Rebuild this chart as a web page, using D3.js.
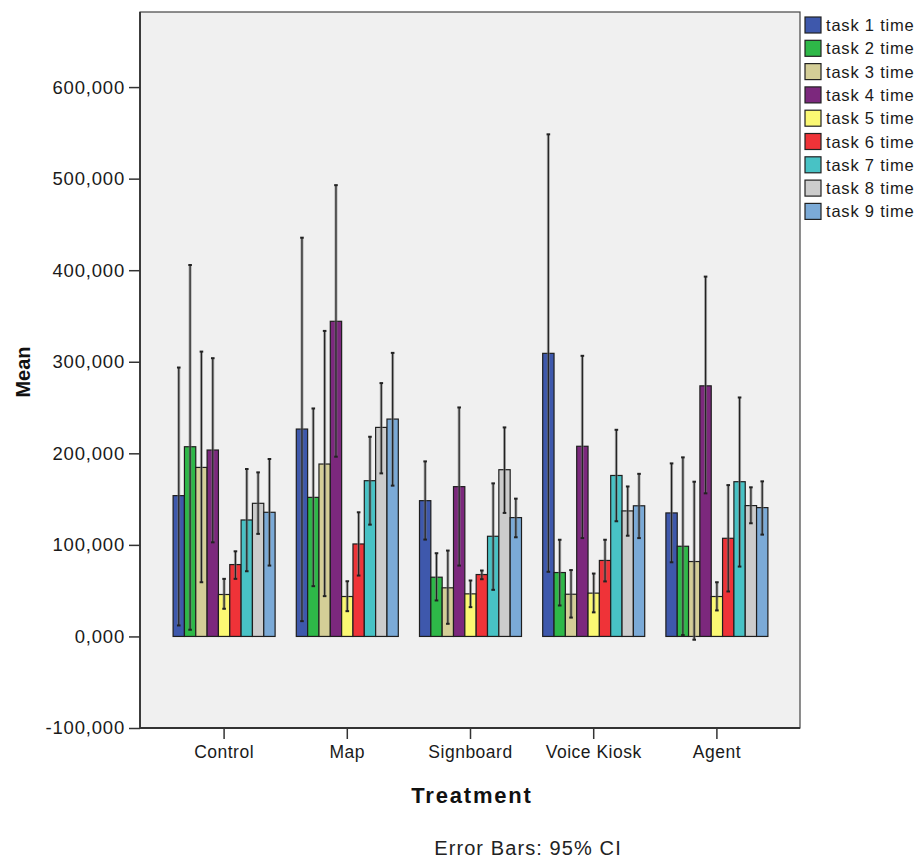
<!DOCTYPE html>
<html>
<head>
<meta charset="utf-8">
<script src="https://cdn.jsdelivr.net/npm/d3@7"></script>
<style>
  body { margin: 0; background: #fff; }
  svg { display: block; font-family: "Liberation Sans", Arial, sans-serif; }
</style>
</head>
<body>
<svg id="chart" width="917" height="859"></svg>
<script>
// ---------------- data ----------------
const categories = ["Control", "Map", "Signboard", "Voice Kiosk", "Agent"];
const tasks = ["task 1 time", "task 2 time", "task 3 time", "task 4 time", "task 5 time",
               "task 6 time", "task 7 time", "task 8 time", "task 9 time"];
const taskColors = ["#3E58AC", "#2EB848", "#D4CE97", "#7C287D", "#FBF873",
                    "#EF3338", "#48C2C5", "#CCCCCC", "#7BAAD7"];
// mean per task (rows) for each treatment (columns), axis units
const meanValues = [
  [153.8, 226.5, 148.3, 309.2, 134.9],
  [207.2, 151.9,  64.7,  69.8,  98.5],
  [184.6, 188.3,  53.1,  46.1,  81.8],
  [203.6, 344.2, 163.6, 207.7, 273.7],
  [ 45.8,  43.6,  46.5,  47.3,  43.6],
  [ 78.5, 101.0,  67.6,  83.0, 107.2],
  [127.2, 170.1, 109.4, 175.8, 169.0],
  [145.4, 228.3, 182.1, 137.1, 142.9],
  [135.6, 237.4, 129.8, 142.7, 140.7]
];
// 95% CI lower bound
const ciLow = [
  [ 12.0,  16.7, 105.8,  70.6,  81.0],
  [  7.3,  54.9,  39.3,  33.8,   1.5],
  [ 59.2,  44.0,  13.8,  20.6,  -3.6],
  [102.8, 196.3,  77.4, 107.4, 156.3],
  [ 30.2,  27.6,  32.0,  26.3,  28.4],
  [ 62.9,  66.5,  62.5,  60.1,  49.1],
  [ 71.2, 122.1,  50.9, 125.8,  76.3],
  [112.0, 178.1, 134.9, 110.0, 123.6],
  [ 77.4, 164.7, 108.3, 107.4, 111.2]
];
// 95% CI upper bound
const ciHigh = [
  [293.7, 435.5, 191.2, 548.4, 189.0],
  [405.7, 249.0,  90.9, 105.6, 195.6],
  [311.1, 333.7,  93.8,  72.5, 169.0],
  [303.9, 492.9, 250.1, 306.5, 393.0],
  [ 62.9,  60.3,  61.1,  68.7,  59.2],
  [ 93.0, 135.6,  72.0, 105.6, 165.3],
  [182.9, 218.1, 167.2, 225.7, 261.0],
  [179.2, 276.7, 228.3, 163.8, 162.9],
  [193.8, 309.7, 150.5, 177.6, 169.4]
];
const yTickValues = [-100, 0, 100, 200, 300, 400, 500, 600];
const yTitle = "Mean";
const xTitle = "Treatment";
const footnote = "Error Bars: 95% CI";

// ---------------- layout ----------------
const svg = d3.select("#chart");
const plot = { left: 140, right: 800, top: 12, bottom: 728 };

const y = d3.scaleLinear().domain([-100, 682]).range([plot.bottom, plot.top]);
const x = d3.scaleBand().domain(categories).range([162.5, 778.5])
  .paddingInner(0.172).paddingOuter(0.086);
const xi = d3.scaleBand().domain(tasks).range([0, x.bandwidth()]).padding(0);
const color = d3.scaleOrdinal().domain(tasks).range(taskColors);

const locale = d3.formatLocale({ decimal: ",", thousands: ".", grouping: [3], currency: ["", ""], minus: "-" });
const fmt = locale.format(".3f");

// plot background
svg.append("rect")
  .attr("x", plot.left).attr("y", plot.top)
  .attr("width", plot.right - plot.left).attr("height", plot.bottom - plot.top)
  .attr("fill", "#F0F0F0").attr("stroke", "#444").attr("stroke-width", 1.2);

// records
const records = [];
tasks.forEach((t, ti) => {
  categories.forEach((c, ci) => {
    records.push({ task: t, cat: c, mean: meanValues[ti][ci], lo: ciLow[ti][ci], hi: ciHigh[ti][ci] });
  });
});

// bars
svg.append("g").selectAll("rect").data(records).join("rect")
  .attr("x", d => x(d.cat) + xi(d.task))
  .attr("y", d => y(Math.max(0, d.mean)))
  .attr("width", xi.bandwidth())
  .attr("height", d => Math.abs(y(d.mean) - y(0)))
  .attr("fill", d => color(d.task))
  .attr("stroke", "#1e1e1e").attr("stroke-width", 1.2);

// error bars
const eb = svg.append("g").selectAll("g").data(records).join("g")
  .attr("transform", d => `translate(${x(d.cat) + xi(d.task) + xi.bandwidth() / 2},0)`);
eb.append("line")
  .attr("y1", d => y(d.lo)).attr("y2", d => y(d.hi))
  .attr("stroke", "#7a7a7a").attr("stroke-width", 3).attr("stroke-opacity", 0.6);
eb.append("line")
  .attr("y1", d => y(d.lo)).attr("y2", d => y(d.hi))
  .attr("stroke", "#222").attr("stroke-width", 1.2);
eb.append("line")
  .attr("x1", -1.8).attr("x2", 1.8)
  .attr("y1", d => y(d.hi)).attr("y2", d => y(d.hi))
  .attr("stroke", "#222").attr("stroke-width", 2);
eb.append("line")
  .attr("x1", -1.8).attr("x2", 1.8)
  .attr("y1", d => y(d.lo)).attr("y2", d => y(d.lo))
  .attr("stroke", "#222").attr("stroke-width", 2);

// y axis
const yAxis = svg.append("g").attr("transform", `translate(${plot.left},0)`)
  .call(d3.axisLeft(y).tickValues(yTickValues).tickFormat(fmt).tickSize(11).tickPadding(4));
yAxis.select(".domain").remove();
yAxis.selectAll(".tick line").attr("stroke", "#333").attr("stroke-width", 1.5);
yAxis.selectAll(".tick text")
  .attr("fill", "#1a1a1a").style("font-size", "18.5px").style("letter-spacing", "0.8px")
  .style("font-family", "'Liberation Sans', Arial, sans-serif");

// x axis
const xAxis = svg.append("g").attr("transform", `translate(0,${plot.bottom})`)
  .call(d3.axisBottom(x).tickSize(11).tickPadding(7));
xAxis.select(".domain").remove();
xAxis.selectAll(".tick line").attr("stroke", "#333").attr("stroke-width", 1.5);
xAxis.selectAll(".tick text")
  .attr("fill", "#1a1a1a").style("font-size", "17.5px").style("letter-spacing", "0.5px")
  .style("font-family", "'Liberation Sans', Arial, sans-serif");

// axis lines (darker)
svg.append("line").attr("x1", plot.left).attr("x2", plot.left)
  .attr("y1", plot.top).attr("y2", plot.bottom).attr("stroke", "#333").attr("stroke-width", 1.8);
svg.append("line").attr("x1", plot.left).attr("x2", plot.right)
  .attr("y1", plot.bottom).attr("y2", plot.bottom).attr("stroke", "#333").attr("stroke-width", 1.8);

// titles
svg.append("text")
  .attr("transform", `translate(30,${(plot.top + plot.bottom) / 2 + 2}) rotate(-90)`)
  .attr("text-anchor", "middle").attr("fill", "#111")
  .style("font-size", "20px").style("font-weight", "bold")
  .text(yTitle);
svg.append("text")
  .attr("x", 472).attr("y", 803)
  .attr("text-anchor", "middle").attr("fill", "#111")
  .style("font-size", "22px").style("font-weight", "bold").style("letter-spacing", "1.8px")
  .text(xTitle);
svg.append("text")
  .attr("x", 528).attr("y", 855)
  .attr("text-anchor", "middle").attr("fill", "#222")
  .style("font-size", "20px").style("letter-spacing", "1.1px")
  .text(footnote);

// legend
const legend = svg.append("g").selectAll("g").data(tasks).join("g")
  .attr("transform", (d, i) => `translate(805,${17 + i * 23.3})`);
legend.append("rect")
  .attr("width", 16).attr("height", 16)
  .attr("fill", d => color(d)).attr("stroke", "#222").attr("stroke-width", 1.2);
legend.append("text")
  .attr("x", 21).attr("y", 14)
  .attr("fill", "#1a1a1a").style("font-size", "16.5px").style("letter-spacing", "0.8px")
  .text(d => d);
</script>
</body>
</html>
